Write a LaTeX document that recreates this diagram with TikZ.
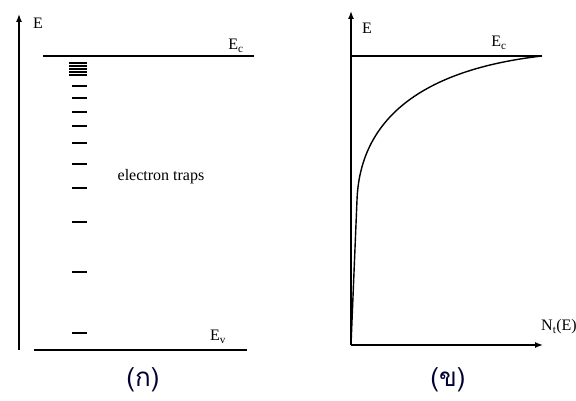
\documentclass[tikz,border=0pt]{standalone}
\usepackage{fontspec}
\setmainfont{Liberation Serif}
\newfontfamily\thaifont[Script=Thai]{Loma}
\usetikzlibrary{arrows.meta}
\begin{document}
\begin{tikzpicture}[x=1pt,y=-1pt,
  axis/.style={line width=1.4pt,-{Latex[length=8pt,width=6pt]}},
  level/.style={line width=1.6pt},
  trap/.style={line width=1.4pt},
  lbl/.style={font=\fontsize{16}{18}\selectfont,inner sep=0pt},
  captext/.style={font=\thaifont\fontsize{26}{30}\selectfont,text=black!80!blue,inner sep=0pt}]
\useasboundingbox (0,0) rectangle (576,401);
% ---- left panel
\coordinate (la0) at (19,350);
\coordinate (la1) at (19,14);
\draw[axis] (la0) -- (la1);
\node[lbl] (lE) at (38,23) {E};
\coordinate (lec0) at (43,56);
\coordinate (lec1) at (254,56);
\draw[level] (lec0) -- (lec1);
\node[lbl] (lEc) at (236,46) {E\textsubscript{c}};
\coordinate (lev0) at (34,350);
\coordinate (lev1) at (247,350);
\draw[level] (lev0) -- (lev1);
\node[lbl] (lEv) at (218,337) {E\textsubscript{v}};
\foreach \y in {63,66,69,72,75}
  \draw[trap] (69,\y) -- (87,\y);
\foreach \y in {86,98,112,126,143,164,188,222,272,333}
  \draw[trap] (72,\y) -- (87,\y);
\node[lbl] (traps) at (161,177) {electron traps};
\node[captext] (ka) at (143,380) {(ก)};
% ---- right panel
\coordinate (ro) at (351,345);
\coordinate (ry) at (351,11);
\coordinate (rx) at (543,345);
\draw[axis] (ro) -- (ry);
\draw[axis] (ro) -- (rx);
\node[lbl] (rE) at (367,28) {E};
\coordinate (rec1) at (542,56);
\draw[level] (351,56) -- (rec1);
\node[lbl] (rEc) at (499,43) {E\textsubscript{c}};
\draw[line width=1.4pt] (ro) -- (357,200)
  .. controls (360,120) and (420,70) .. (rec1);
\node[lbl,anchor=east] (rN) at (577,327) {N\textsubscript{t}(E)};
\node[captext] (kha) at (448,380) {(ข)};
\end{tikzpicture}
\end{document}
